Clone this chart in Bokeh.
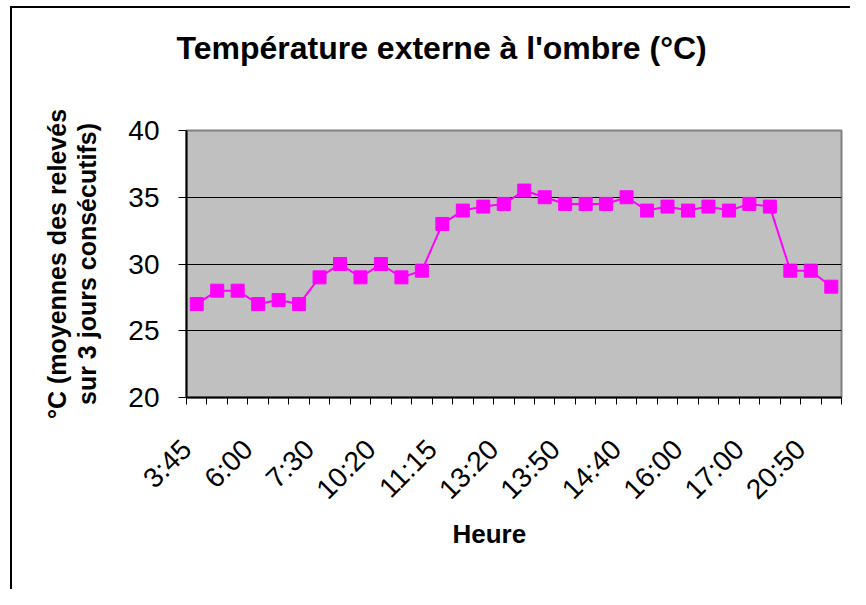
import math
from bokeh.plotting import figure
from bokeh.models import FixedTicker, ColumnDataSource, Title
from bokeh.embed import file_html
from bokeh.resources import INLINE

# ---- data ----
tick_labels = ["3:45", "6:00", "7:30", "10:20", "11:15", "13:20",
               "13:50", "14:40", "16:00", "17:00", "20:50"]
label_step = 3
temperatures = [27, 28, 28, 27, 27.3, 27, 29, 30, 29, 30, 29, 29.5,
                33, 34, 34.3, 34.5, 35.5, 35, 34.5, 34.5, 34.5, 35, 34, 34.3,
                34, 34.3, 34, 34.5, 34.3, 29.5, 29.5, 28.3]
y_ticks = [20, 25, 30, 35, 40]

title_text = "Température externe à l'ombre (°C)"
x_title = "Heure"
y_title = "°C (moyennes des relevés\nsur 3 jours consécutifs)"

n = len(temperatures)
idx = list(range(n))
src = ColumnDataSource(dict(x=idx, y=temperatures))

FONT = "Liberation Sans"
label_shift = 0.5  # visual offset of the rotated labels (Excel style)

p = figure(frame_width=655, frame_height=267,
           x_range=(-0.5, n - 0.5), y_range=(y_ticks[0], y_ticks[-1]),
           output_backend="svg", toolbar_location=None,
           min_border_left=186, min_border_top=130,
           min_border_right=9, min_border_bottom=192)
# outer chart border (left / top), drawn inside the page area
p.styles = {"background-color": "white",
            "box-shadow": "inset 10px 6px 0 0 white, inset 12px 8px 0 0 black"}

p.background_fill_color = "#C0C0C0"
p.border_fill_color = None
p.outline_line_color = "#808080"
p.outline_line_width = 2

# spacer between the frame and the title
p.add_layout(Title(text=" ", text_font_size="10px", standoff=52), "above")
p.title.text = title_text
p.title.align = "left"
p.title.offset = -10
p.title.standoff = 0
p.title.text_font = FONT
p.title.text_font_size = "32px"
p.title.text_font_style = "bold"
p.title.text_color = "black"

p.xgrid.visible = False
p.ygrid.grid_line_color = "black"
p.ygrid.grid_line_width = 1
p.ygrid.ticker = FixedTicker(ticks=y_ticks)

# x axis
label_pos = [i * label_step - label_shift for i in range(len(tick_labels))]
xa = p.xaxis[0]
xa.ticker = FixedTicker(ticks=label_pos,
                        minor_ticks=[i - 0.5 for i in range(n + 1)])
xa.major_label_overrides = {pos: lab for pos, lab in zip(label_pos, tick_labels)}
xa.major_tick_line_color = None
xa.major_tick_out = 0
xa.major_tick_in = 0
xa.minor_tick_line_color = "black"
xa.minor_tick_out = 7
xa.minor_tick_in = 0
xa.major_label_orientation = math.pi / 4
xa.major_label_standoff = 40
xa.major_label_text_font = FONT
xa.major_label_text_font_size = "28px"
xa.major_label_text_color = "black"
xa.axis_line_color = "black"
xa.axis_line_width = 2

# x axis title, placed like Excel (slightly left of centre)
p.add_layout(Title(text=x_title, align="left", offset=266, standoff=0,
                   vertical_align="top", text_font=FONT, text_font_size="26px",
                   text_font_style="bold", text_color="black"), "below")

# y axis
ya = p.yaxis[0]
ya.ticker = FixedTicker(ticks=y_ticks)
ya.minor_tick_line_color = None
ya.major_tick_out = 8
ya.major_tick_in = 0
ya.major_tick_line_color = "black"
ya.major_label_standoff = 19
ya.major_label_text_font = FONT
ya.major_label_text_font_size = "28px"
ya.major_label_text_color = "black"
ya.axis_line_color = "black"
ya.axis_line_width = 2
ya.axis_label = y_title
ya.axis_label_text_font = FONT
ya.axis_label_text_font_size = "25px"
ya.axis_label_text_font_style = "bold"
ya.axis_label_text_color = "black"
ya.axis_label_standoff = 24
ya.axis_label_text_line_height = 1.1

p.line("x", "y", source=src, line_color="#FF00FF", line_width=2)
p.scatter("x", "y", source=src, marker="square", size=13,
          fill_color="#FF00FF", line_color="#FF00FF")

open("out.html", "w").write(file_html(p, INLINE))
